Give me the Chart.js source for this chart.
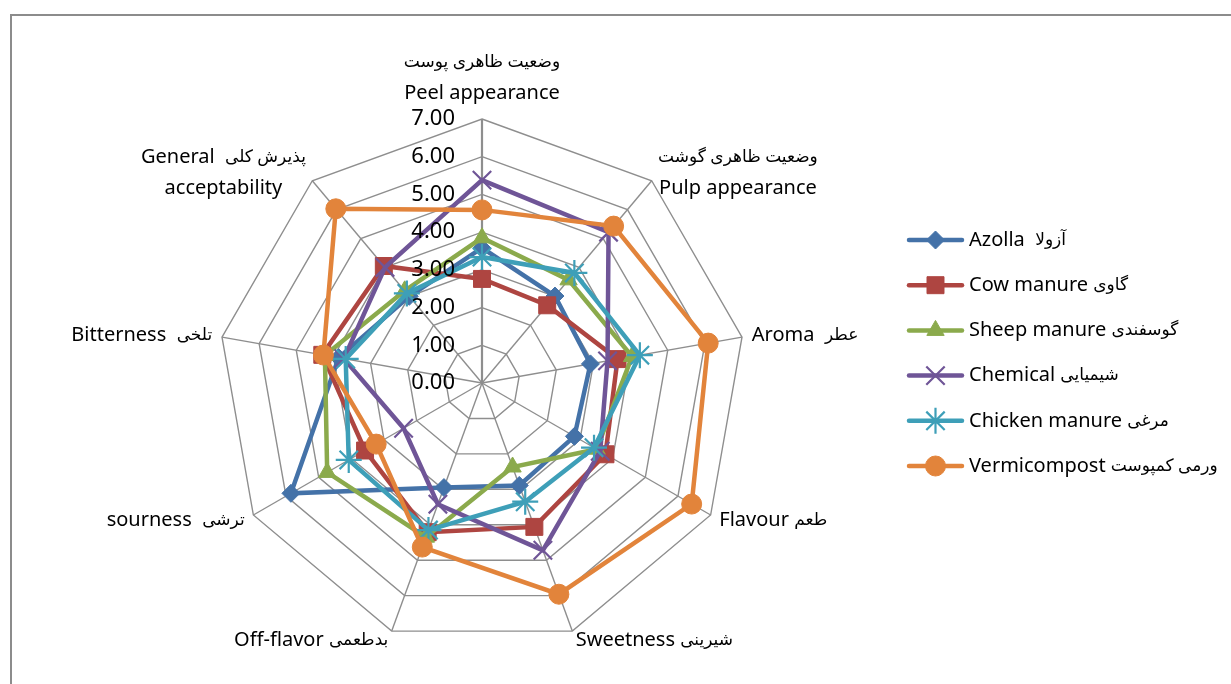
<!DOCTYPE html>
<html>
<head>
<meta charset="UTF-8">
<title>Sensory evaluation radar</title>
<script src="https://cdn.jsdelivr.net/npm/chart.js"></script>
<style>
  html, body { margin: 0; padding: 0; background: #fff; }
  canvas { display: block; }
</style>
</head>
<body>
<canvas id="radar" width="1231" height="684"></canvas>
<script>
// axis labels (Persian + English, as in the original figure)
const attributes = [
    ['وضعیت ظاهری پوست', 'Peel appearance'],
    ['وضعیت ظاهری گوشت', 'Pulp appearance'],
    'Aroma  عطر',
    'Flavour طعم',
    'Sweetness شیرینی',
    'Off-flavor بدطعمی',
    'sourness  ترشی',
    'Bitterness  تلخی',
    ['General  پذیرش کلی', 'acceptability']
];

const seriesNames = [
    'Azolla  آزولا',
    'Cow manure گاوی',
    'Sheep manure گوسفندی',
    'Chemical شیمیایی',
    'Chicken manure مرغی',
    'Vermicompost ورمی کمپوست'
];

const azolla   = [3.58, 3.01, 2.92, 2.83, 2.89, 2.95, 5.85, 3.86, 3.00];
const cow      = [2.76, 2.69, 3.65, 3.78, 4.06, 4.21, 3.58, 4.30, 4.05];
const sheep    = [3.85, 3.57, 4.04, 3.51, 2.37, 4.35, 4.74, 4.23, 3.19];
const chemical = [5.38, 5.22, 3.38, 3.62, 4.72, 3.42, 2.40, 3.72, 4.00];
const chicken  = [3.34, 3.81, 4.25, 3.43, 3.35, 4.15, 4.08, 3.67, 3.10];
const vermi    = [4.59, 5.43, 6.09, 6.42, 5.96, 4.63, 3.24, 4.27, 6.03];

const scaleTicks = [0, 1, 2, 3, 4, 5, 6, 7];

const colors = ['#4472A8', '#AE4541', '#8BAA4C', '#6F5597', '#3E9FB8', '#E2843B'];
const markers = [
    { style: 'rectRot',  radius: 9,  border: 1 },
    { style: 'rect',     radius: 12, border: 1 },
    { style: 'triangle', radius: 10, border: 1 },
    { style: 'crossRot', radius: 13, border: 2.2 },
    { style: 'star',     radius: 13, border: 2.2 },
    { style: 'circle',   radius: 10, border: 1 }
];
const allSeries = [azolla, cow, sheep, chemical, chicken, vermi];

const FONT = '"Noto Sans", "DejaVu Sans", sans-serif';

const datasets = allSeries.map((values, i) => ({
    label: seriesNames[i],
    data: values,
    borderColor: colors[i],
    backgroundColor: colors[i],
    borderWidth: 4.5,
    fill: false,
    tension: 0,
    pointStyle: markers[i].style,
    pointRadius: markers[i].radius,
    pointBorderWidth: markers[i].border,
    pointBackgroundColor: colors[i],
    pointBorderColor: colors[i],
    order: allSeries.length - i   // last series on top, like Excel
}));

// split "Latin فارسی" into runs so the Persian part can use a smaller size
function runs(text) {
    const k = text.search(/[\u0600-\u06FF]/);
    if (k < 0) return [{ t: text, fa: false }];
    if (k === 0) return [{ t: text, fa: true }];
    return [{ t: text.slice(0, k), fa: false }, { t: text.slice(k), fa: true }];
}
function fontFor(fa, size) {
    return (fa ? Math.round(size * 0.84) : size) + 'px ' + FONT;
}
function measureMixed(ctx, text, size) {
    let w = 0;
    runs(text).forEach(r => { ctx.font = fontFor(r.fa, size); w += ctx.measureText(r.t).width; });
    return w;
}
function drawMixed(ctx, text, x, y, size) {
    ctx.textAlign = 'left';
    ctx.textBaseline = 'middle';
    runs(text).forEach(r => {
        ctx.font = fontFor(r.fa, size);
        ctx.fillText(r.t, x, y);
        x += ctx.measureText(r.t).width;
    });
}

// draws frame, tick numbers, axis labels and legend the way Excel lays them out
const excelDecor = {
    id: 'excelDecor',
    beforeDraw(chart) {
        const ctx = chart.ctx;
        ctx.save();
        ctx.strokeStyle = '#8c8c8c';
        ctx.lineWidth = 2;
        ctx.strokeRect(11, 15, 1300, 800);
        ctx.restore();
    },
    afterDraw(chart) {
        const scale = chart.scales.r;
        const ctx = chart.ctx;
        ctx.save();
        ctx.fillStyle = '#000';

        // tick numbers, left of the vertical axis
        ctx.font = '22px ' + FONT;
        ctx.textAlign = 'right';
        ctx.textBaseline = 'middle';
        scale.ticks.forEach(t => {
            const y = scale.yCenter - scale.getDistanceFromCenterForValue(t.value);
            ctx.fillText(t.value.toFixed(2), scale.xCenter - 27, y);
        });

        // point labels
        const size = 20, lh = 31;
        const n = chart.data.labels.length;
        chart.data.labels.forEach((lab, i) => {
            const lines = Array.isArray(lab) ? lab : [lab];
            const angle = 360 / n * i;
            const p = scale.getPointPosition(i, scale.drawingArea + 10);
            const widths = lines.map(s => measureMixed(ctx, s, size));
            const w = Math.max(...widths);
            let cx = p.x;
            if (angle > 0 && angle < 180) cx = p.x + w / 2;
            else if (angle > 180) cx = p.x - w / 2;
            const top = angle === 0 ? p.y - lines.length * lh : p.y - lines.length * lh / 2;
            lines.forEach((s, k) => drawMixed(ctx, s, cx - widths[k] / 2, top + lh * k + lh / 2, size));
        });

        // legend: line + marker + text
        const lx = 909, ly = 240, step = 45.2;
        chart.data.datasets.forEach((ds, i) => {
            const y = ly + step * i;
            ctx.strokeStyle = ds.borderColor;
            ctx.fillStyle = ds.borderColor;
            ctx.lineWidth = 4.5;
            ctx.lineCap = 'round';
            ctx.beginPath();
            ctx.moveTo(lx, y);
            ctx.lineTo(lx + 53, y);
            ctx.stroke();
            ctx.lineCap = 'butt';
            ctx.lineWidth = ds.pointBorderWidth;
            if (Chart.helpers && Chart.helpers.drawPoint) {
                Chart.helpers.drawPoint(ctx, {
                    pointStyle: ds.pointStyle,
                    radius: ds.pointRadius,
                    borderWidth: ds.pointBorderWidth,
                    rotation: 0
                }, lx + 26.5, y);
            }
            ctx.fillStyle = '#000';
            drawMixed(ctx, ds.label, lx + 60, y, 20);
        });
        ctx.restore();
    }
};

const chart = new Chart(document.getElementById('radar').getContext('2d'), {
    type: 'radar',
    data: {
        labels: attributes,
        datasets: datasets
    },
    options: {
        responsive: false,
        animation: false,
        layout: {
            padding: { left: 218, top: 119, right: 485, bottom: 37 }
        },
        plugins: {
            legend: { display: false },
            tooltip: { enabled: false }
        },
        scales: {
            r: {
                min: scaleTicks[0],
                max: scaleTicks[scaleTicks.length - 1],
                ticks: { stepSize: 1, display: false },
                pointLabels: { display: false },
                grid: { color: '#8e8e8e', lineWidth: 1.4 },
                angleLines: {
                    color: '#8e8e8e',
                    lineWidth: ctx => ctx.index === 0 ? 2.2 : 1.4
                }
            }
        }
    },
    plugins: [excelDecor]
});
</script>
</body>
</html>
